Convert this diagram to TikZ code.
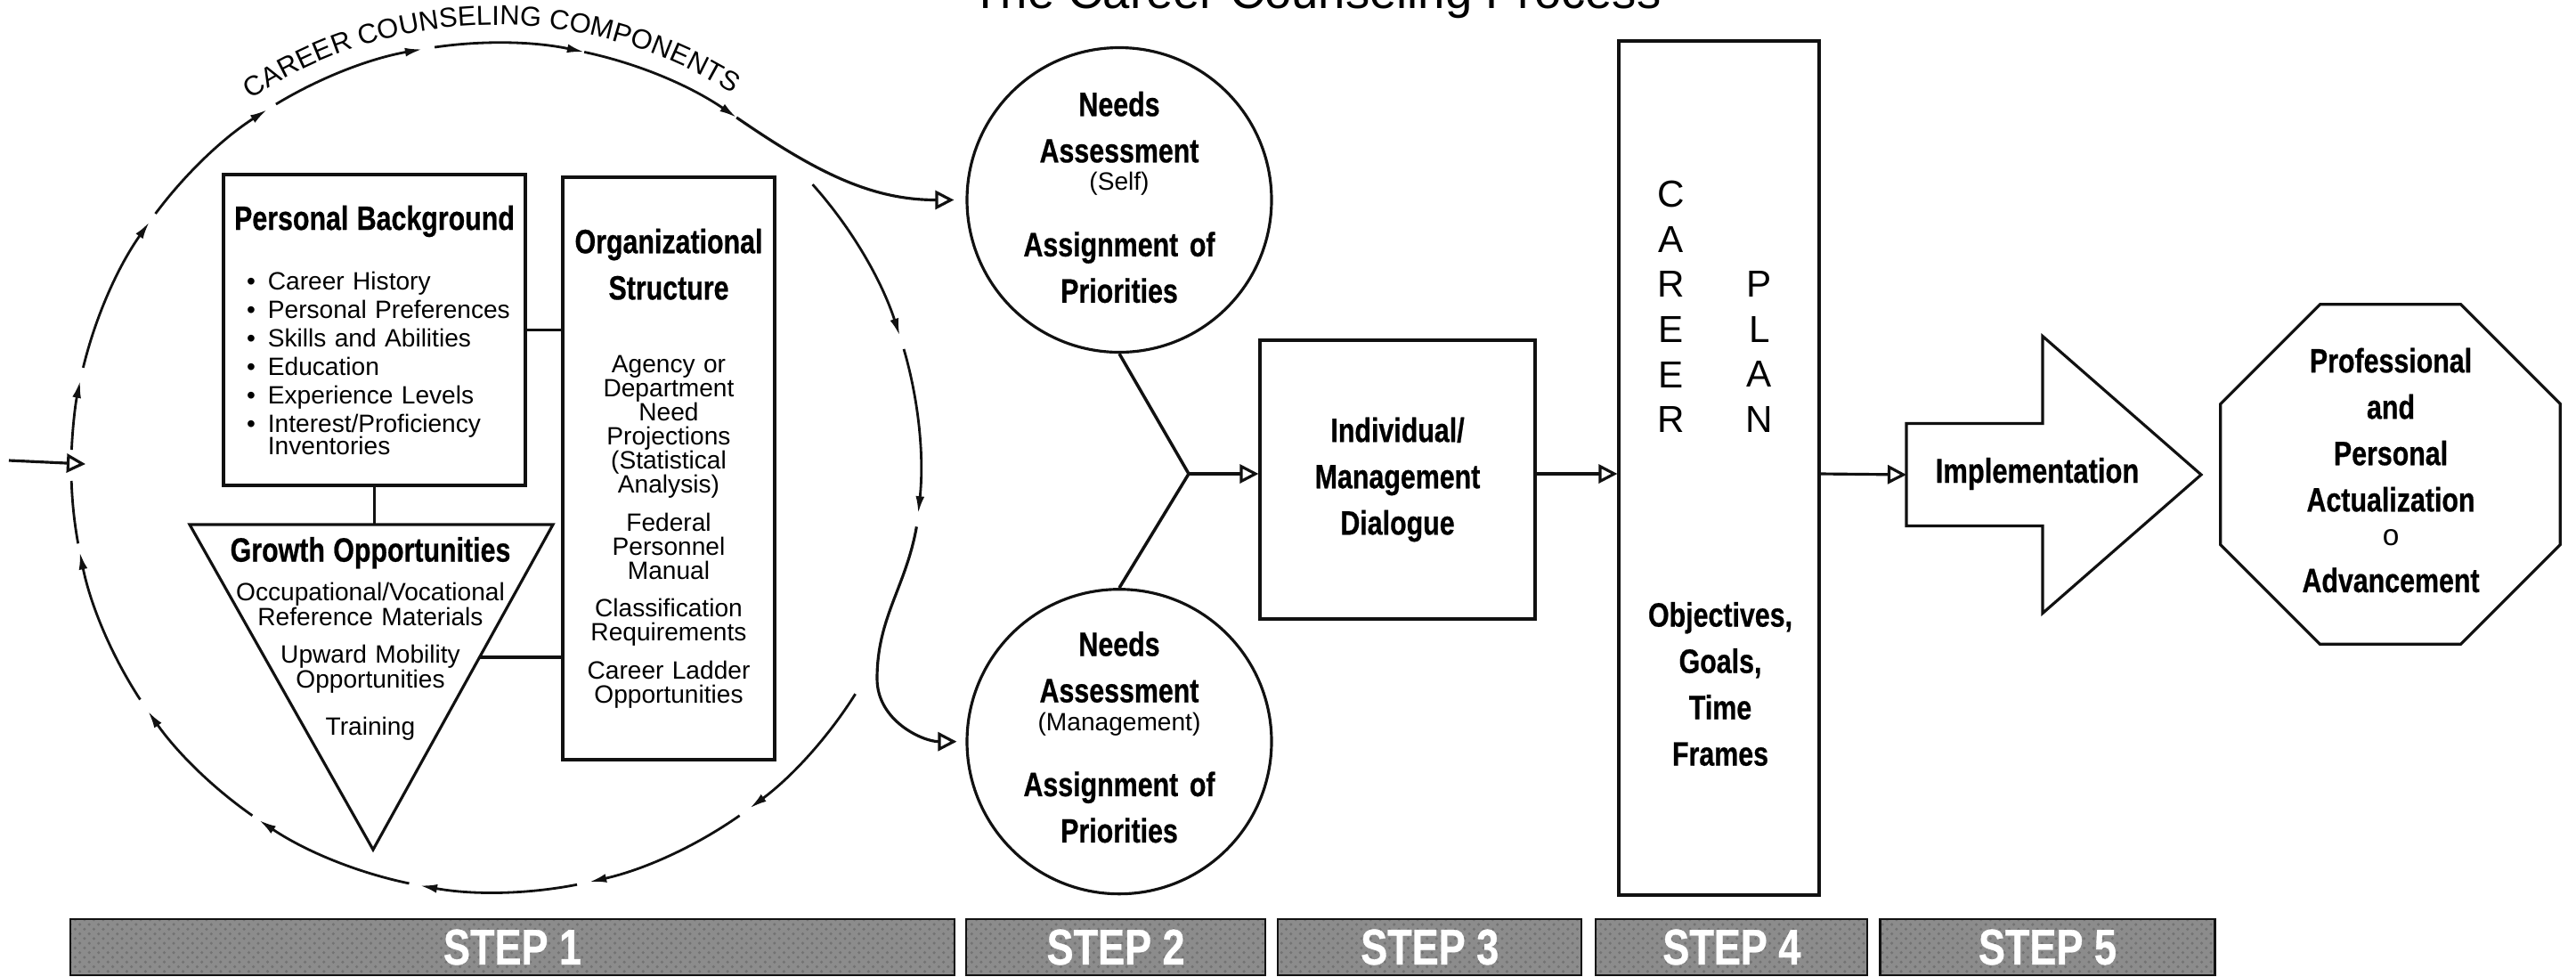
\documentclass[tikz,border=0pt]{standalone}
\usepackage{fontspec}
\setmainfont{Liberation Sans}
\newfontfamily\headFont[FakeStretch=0.8,FakeBold=0.6]{Liberation Sans}
\usepackage{xcolor}
\definecolor{inkDark}{HTML}{111111}
\definecolor{stepGray}{HTML}{8C8C8C}
\usepackage{tikz}
\usetikzlibrary{positioning,calc,arrows.meta,shapes.geometric,decorations.text,patterns}
\tikzset{
  compBox/.style={
    rectangle,
    draw=inkDark,
    line width=0.9pt,
    inner sep=0pt
 },
  needsCircle/.style={
    circle,
    draw=inkDark,
    line width=0.9pt,
    minimum size=3.42cm,
    inner sep=0pt
 },
  headText/.style={
    font=\headFont\bfseries\fontsize{10.8}{14.8}\selectfont,
    align=center
 },
  loopLine/.style={
    -{Latex[length=5.5pt,width=2.8pt]},
    line width=0.8pt,
    color=inkDark
 },
  linkLine/.style={
    line width=0.9pt,
    color=inkDark
 },
  openArrow/.style={
    -{Triangle[open,length=6pt,width=6pt]},
    line width=0.9pt,
    color=inkDark
 },
  stepBar/.style={
    rectangle,
    draw=inkDark,
    line width=0.6pt,
    preaction={fill=stepGray},
    pattern=crosshatch dots,
    pattern color=black!55,
    minimum height=0.57cm,
    text=white,
    font=\headFont\bfseries\fontsize{16}{16}\selectfont
 }
}

\begin{document}
\begin{tikzpicture}
  \useasboundingbox (0,0) rectangle (28.93,-10.96);

  % Title, cut by the top edge
  \node[font=\fontsize{15.5}{18}\selectfont, anchor=base] (title) at (14.78,-0.09) {The Career Counseling Process};

  % Step 1: career counseling components
  \coordinate (loopC) at (5.57,-5.25);
  \foreach \from/\to in {177.6/168.2, 166.4/144.7, 143.3/122.6, 121.2/100, 98.3/78, 78/55.5,
                         41.8/18.1, 16.2/-6.2, -32.2/-53.3, -55/-77.3, -79/-100.3,
                         -101.8/-123.9, -125/-145, -146.9/-168.5}
    \draw[loopLine] ($(loopC)+(\from:4.77)$) arc[start angle=\from, end angle=\to, radius=4.77];
  \draw[linkLine, line width=0.8pt] ($(loopC)+(190.3:4.77)$) arc[start angle=190.3, end angle=181.8, radius=4.77];
  \path[decorate, decoration={text along path, text align=center,
      text={|\fontsize{8.8}{10}\selectfont|CAREER COUNSELING COMPONENTS}}]
    ($(loopC)+(135:4.97)$) arc[start angle=135, end angle=46.3, radius=4.97];

  \coordinate (entry) at (0.10,-5.17);
  \coordinate (loopIn) at (0.96,-5.21);
  \draw[openArrow] (entry) -- (loopIn);

  \node[compBox, minimum width=3.39cm, minimum height=3.49cm, text width=2.87cm, align=left,
        font=\fontsize{8}{9.1}\selectfont] (background) at (4.205,-3.705) {%
    \makebox[\linewidth]{\headFont\bfseries\fontsize{10.8}{14.8}\selectfont Personal Background}\par
    \vspace{10pt}
    \textbullet\enspace Career History\\
    \textbullet\enspace \mbox{Personal Preferences}\\
    \textbullet\enspace Skills and Abilities\\
    \textbullet\enspace Education\\
    \textbullet\enspace Experience Levels\\
    \textbullet\enspace \mbox{Interest/Proficiency}\\[-2pt]
    \phantom{\textbullet}\enspace Inventories};

  \node[compBox, minimum width=2.38cm, minimum height=6.54cm, text width=2.3cm, align=center,
        font=\fontsize{8}{7.7}\selectfont] (org) at (7.51,-5.26) {%
    {\headFont\bfseries\fontsize{10.8}{14.8}\selectfont Organizational\\Structure\par}
    \vspace{15.6pt}
    Agency or\\Department\\Need\\Projections\\(Statistical\\Analysis)\par
    \vspace{4.4pt}
    Federal\\Personnel\\Manual\par
    \vspace{4.4pt}
    Classification\\Requirements\par
    \vspace{4.4pt}
    Career Ladder\\Opportunities};

  \draw[linkLine] (2.13,-5.89) coordinate (gL) -- (6.21,-5.89) coordinate (gR)
    -- (4.19,-9.54) coordinate (gA) -- cycle;
  \node[align=center, text width=3.4cm, font=\fontsize{8}{7.9}\selectfont] (growthText) at (4.16,-7.17) {%
    {\headFont\bfseries\fontsize{10.8}{14.8}\selectfont Growth Opportunities\par}
    \vspace{3.5pt}
    Occupational/Vocational\\Reference Materials\par
    \vspace{4.1pt}
    Upward Mobility\\Opportunities\par
    \vspace{7.1pt}
    Training};

  \coordinate (gLink) at ($(gR)!0.408!(gA)$);
  \draw[linkLine] (background.east) -- (background.east -| org.west);
  \draw[linkLine] (background.south) -- (background.south |- gL);
  \draw[linkLine] (gLink) -- (gLink -| org.west);

  % Step 2: needs assessment
  \node[needsCircle] (self) at (12.57,-2.245) {};
  \node[needsCircle, below=2.63cm of self] (mgmt) {};
  \node[headText, text width=2.6cm] (selfText) at ($(self)+(0,0.03)$) {%
    Needs\\Assessment\par
    {\normalfont\fontsize{8}{9}\selectfont (Self)\par}
    \vspace{6.2pt}
    Assignment of\\Priorities};
  \node[headText, text width=2.6cm] (mgmtText) at ($(mgmt)+(0,0.05)$) {%
    Needs\\Assessment\par
    {\normalfont\fontsize{8}{9}\selectfont (Management)\par}
    \vspace{6.2pt}
    Assignment of\\Priorities};

  \draw[openArrow, shorten >=1.3mm] ($(loopC)+(55.5:4.77)$) to[out=-34.5,in=180] (self.west);
  \draw[openArrow, shorten >=1mm] ($(loopC)+(-8:4.77)$) to[out=-100,in=90] (9.85,-7.62)
    to[out=-90,in=180] (mgmt.west);

  % Step 3: dialogue
  \coordinate (junction) at (13.35,-5.32);
  \node[compBox, minimum width=3.09cm, minimum height=3.13cm, headText] (dialogue) at (15.695,-5.385)
    {Individual/\\Management\\Dialogue};
  \draw[linkLine, line width=1pt] (self.south) -- (junction) -- (mgmt.north);
  \draw[openArrow] (junction) -- (junction -| dialogue.west);

  % Step 4: career plan
  \node[compBox, minimum width=2.25cm, minimum height=9.59cm] (plan) at (19.305,-5.255) {};
  \node[font=\fontsize{12}{14.4}\selectfont, align=center] (careerWord) at (18.77,-3.445) {C\\A\\R\\E\\E\\R};
  \node[font=\fontsize{12}{14.4}\selectfont, align=center] (planWord) at (19.76,-3.95) {P\\L\\A\\N};
  \node[headText] (planText) at (19.32,-7.68) {Objectives,\\Goals,\\Time\\Frames};
  \draw[openArrow] (dialogue.east |- junction) -- (junction -| plan.west);

  % Step 5: implementation
  \draw[linkLine] (21.41,-4.755) coordinate (implTL) -- (22.94,-4.755) -- (22.94,-3.775)
    -- (24.72,-5.33) -- (22.94,-6.885) -- (22.94,-5.905) -- (21.41,-5.905) coordinate (implBL) -- cycle;
  \coordinate (implTail) at ($(implTL)!0.5!(implBL)$);
  \node[headText, font=\headFont\bfseries\fontsize{11}{14}\selectfont] (impl) at (22.88,-5.32) {Implementation};
  \draw[openArrow] (plan.east |- junction) -- (implTail);

  \node[regular polygon, regular polygon sides=8, draw=inkDark, line width=0.9pt,
        minimum size=4.13cm, inner sep=0pt] (goal) at (26.845,-5.325) {};
  \node[headText, text width=3.4cm] (goalText) at (26.85,-5.28) {%
    Professional\\and\\Personal\\Actualization\par
    {\normalfont\fontsize{9.5}{11}\selectfont o\par}
    \vspace{0pt}
    Advancement};

  % Step bars
  \node[stepBar, minimum width=9.93cm] (step1) at (5.755,-10.635) {STEP 1};
  \node[stepBar, minimum width=3.36cm, right=0.11cm of step1] (step2) {STEP 2};
  \node[stepBar, minimum width=3.41cm, right=0.12cm of step2] (step3) {STEP 3};
  \node[stepBar, minimum width=3.05cm, right=0.14cm of step3] (step4) {STEP 4};
  \node[stepBar, minimum width=3.76cm, right=0.12cm of step4] (step5) {STEP 5};

\end{tikzpicture}
\end{document}
